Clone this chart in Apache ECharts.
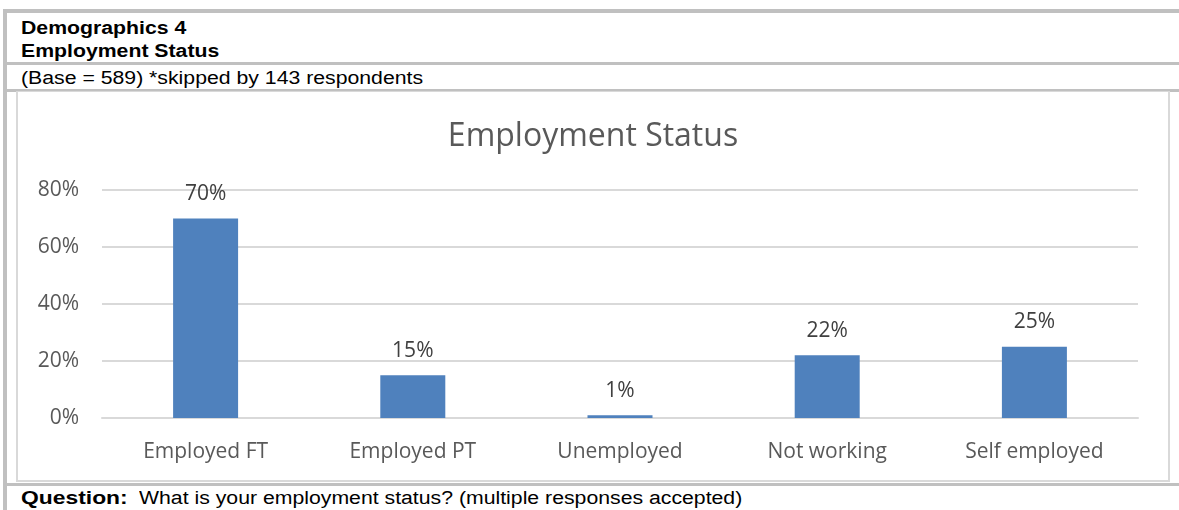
<!DOCTYPE html>
<html>
<head>
<meta charset="utf-8">
<script src="https://cdn.jsdelivr.net/npm/echarts@6/dist/echarts.min.js"></script>
<style>
  html, body { margin: 0; padding: 0; background: #fff; }
  body { width: 1179px; height: 510px; position: relative; overflow: hidden; font-family: Arial, "Liberation Sans", sans-serif; color: #000; }
  .hline { position: absolute; left: 3px; right: 0; background: #c0c0c0; }
  .vline { position: absolute; top: 9px; bottom: 0; left: 3px; width: 4px; background: #c0c0c0; }
  .txt { position: absolute; left: 21px; font-size: 18px; line-height: 18px; white-space: nowrap; transform: scaleX(1.18); transform-origin: left center; }
  .b { font-weight: bold; }
  #box { position: absolute; left: 16px; top: 91px; width: 1150px; height: 388px; border: 2px solid #d9d9d9; border-top-width: 1px; }
  #chart { position: absolute; left: 0; top: 0; width: 1150px; height: 388px; }
</style>
</head>
<body>
<div class="hline" style="top:9px;height:4px"></div>
<div class="vline"></div>
<div class="txt b" style="top:19px">Demographics 4</div>
<div class="txt b" style="top:42px">Employment Status</div>
<div class="hline" style="top:62px;height:3px"></div>
<div class="txt" style="top:69px">(Base = 589) *skipped by 143 respondents</div>
<div class="hline" style="top:89px;height:3px"></div>
<div id="box"><div id="chart"></div></div>
<div class="hline" style="top:483px;height:3px"></div>
<div class="txt b" style="top:489px;transform:scaleX(1.27)">Question:</div>
<div class="txt" style="top:489px;left:139px">What is your employment status? (multiple responses accepted)</div>

<script>
var categories = ['Employed FT', 'Employed PT', 'Unemployed', 'Not working', 'Self employed']
var values = [70, 15, 1, 22, 25]
var yTicks = [0, 20, 40, 60, 80]

var chart = echarts.init(document.getElementById('chart'))
chart.setOption({
  animation: false,
  title: {
    text: 'Employment Status',
    left: 'center',
    top: 24,
    textStyle: {
      fontFamily: 'Open Sans',
      fontSize: 32,
      fontWeight: 'normal',
      color: '#595959'
    }
  },
  grid: {
    left: 84,
    right: 30,
    top: 98,
    bottom: 62
  },
  xAxis: {
    type: 'category',
    data: categories,
    axisTick: { show: false },
    axisLine: { lineStyle: { color: '#d9d9d9', width: 2 } },
    axisLabel: {
      fontFamily: 'Open Sans',
      fontSize: 21,
      color: '#595959',
      margin: 24
    }
  },
  yAxis: {
    type: 'value',
    min: 0,
    max: yTicks[yTicks.length - 1],
    interval: 20,
    axisLine: { show: false },
    axisTick: { show: false },
    splitLine: { lineStyle: { color: '#d9d9d9', width: 2 } },
    axisLabel: {
      fontFamily: 'Open Sans',
      fontSize: 21,
      color: '#595959',
      margin: 23,
      formatter: '{value}%'
    }
  },
  series: [
    {
      type: 'bar',
      data: values,
      barWidth: 65,
      itemStyle: { color: '#4f81bd' },
      label: {
        show: true,
        position: 'top',
        distance: 14,
        formatter: '{c}%',
        fontFamily: 'Open Sans',
        fontSize: 21,
        color: '#404040'
      }
    }
  ]
})
</script>
</body>
</html>
